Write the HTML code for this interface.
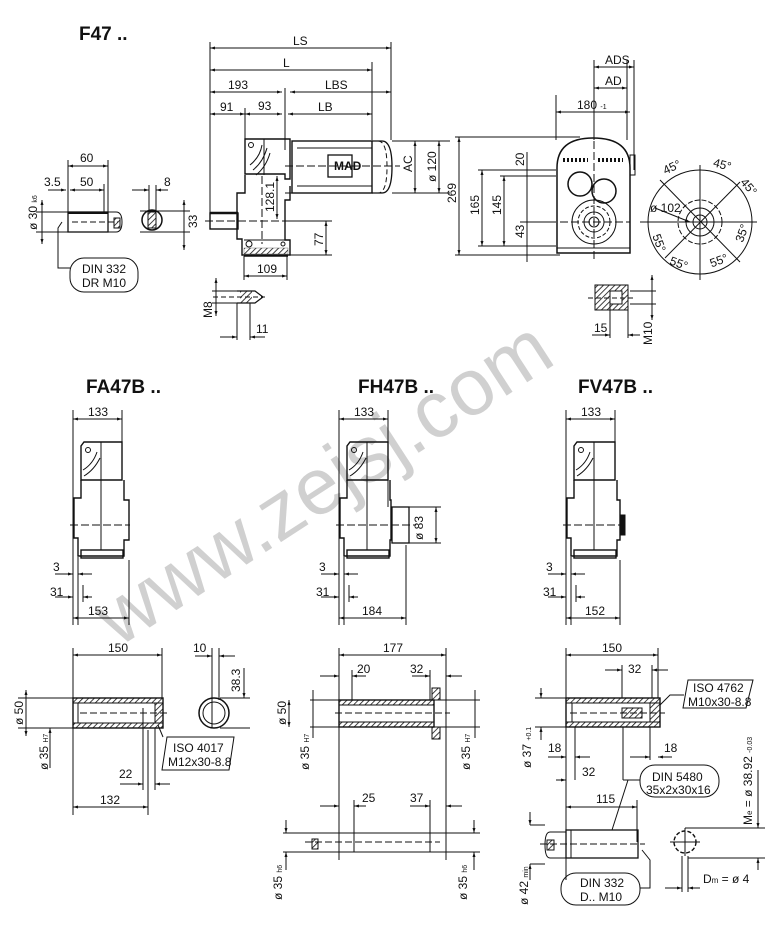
<!DOCTYPE html>
<html><head><meta charset="utf-8"><style>
html,body{margin:0;padding:0;background:#fff;}
svg{display:block;}
text{font-family:"Liberation Sans",sans-serif;font-size:12px;fill:#111;}
.b{font-weight:bold;}
.h{font-size:19px;font-weight:bold;}
</style></head><body>
<svg width="769" height="929" viewBox="0 0 769 929" xmlns="http://www.w3.org/2000/svg">
<defs>
<marker id="a" viewBox="0 0 10 10" refX="10" refY="5" markerWidth="7" markerHeight="5" orient="auto-start-reverse"><path d="M0 2L10 5L0 8z" fill="#111"/></marker>
<pattern id="hat" width="4" height="4" patternUnits="userSpaceOnUse" patternTransform="rotate(45)"><line x1="0" y1="0" x2="0" y2="4" stroke="#111" stroke-width="1.6"/></pattern>
</defs>
<text transform="translate(118,648) rotate(-33)" style="font-size:80px;fill:#c4c4c4;fill-opacity:0.8;font-family:'Liberation Sans',sans-serif">www.zejsj.com</text>
<g stroke="#111" stroke-width="1" fill="none">

<!-- ===== F47 left shaft ===== -->
<line x1="68" y1="160" x2="68" y2="232"/><line x1="108" y1="160" x2="108" y2="212"/>
<line x1="68" y1="166" x2="108" y2="166" marker-start="url(#a)" marker-end="url(#a)"/>
<line x1="48" y1="190" x2="66" y2="190" marker-end="url(#a)"/><line x1="70" y1="190" x2="104" y2="190" marker-start="url(#a)" marker-end="url(#a)"/>
<line x1="104" y1="184" x2="104" y2="212"/>
<rect x="68" y="212" width="40" height="20" stroke-width="1.3"/>
<line x1="68" y1="213" x2="108" y2="213" stroke-width="2"/>
<path d="M108 212h8q6 0 6 10q0 10-6 10h-8"/>
<rect x="114" y="218" width="6" height="10" fill="url(#hat)"/>
<line x1="72" y1="222" x2="118" y2="222" stroke-dasharray="6 3"/>
<line x1="36" y1="212" x2="68" y2="212"/><line x1="36" y1="232" x2="68" y2="232"/>
<line x1="42" y1="200" x2="42" y2="244" marker-start="url(#a)" marker-end="url(#a)"/>
<path d="M62 222l-4 6v40h12"/>
<rect x="70" y="258" width="68" height="34" rx="14"/>
<circle cx="152" cy="220" r="10" stroke-width="1.5"/><rect x="148" y="212" width="8" height="16" fill="url(#hat)"/>
<line x1="149" y1="185" x2="149" y2="210"/><line x1="156" y1="185" x2="156" y2="210"/>
<line x1="132" y1="190" x2="149" y2="190" marker-end="url(#a)"/><line x1="156" y1="190" x2="168" y2="190" marker-start="url(#a)"/>
<line x1="140" y1="211" x2="190" y2="211"/><line x1="140" y1="232" x2="190" y2="232"/>
<line x1="184" y1="200" x2="184" y2="250" marker-start="url(#a)" marker-end="url(#a)"/>

<!-- ===== F47 main side view ===== -->
<line x1="210" y1="42" x2="210" y2="218"/>
<line x1="245" y1="108" x2="245" y2="140"/><line x1="285" y1="88" x2="285" y2="150"/>
<line x1="372" y1="62" x2="372" y2="140"/><line x1="391" y1="42" x2="391" y2="140"/>
<line x1="210" y1="48" x2="391" y2="48" marker-start="url(#a)" marker-end="url(#a)"/>
<line x1="210" y1="70" x2="372" y2="70" marker-start="url(#a)" marker-end="url(#a)"/>
<line x1="210" y1="92" x2="282" y2="92" marker-start="url(#a)" marker-end="url(#a)"/>
<line x1="290" y1="92" x2="391" y2="92" marker-start="url(#a)" marker-end="url(#a)"/>
<line x1="210" y1="114" x2="245" y2="114" marker-start="url(#a)" marker-end="url(#a)"/>
<line x1="245" y1="114" x2="282" y2="114" marker-start="url(#a)" marker-end="url(#a)"/>
<line x1="288" y1="114" x2="372" y2="114" marker-start="url(#a)" marker-end="url(#a)"/>
<path d="M245 139h45v40h-5v-5h-40z" stroke-width="1.4"/>
<path d="M250 165q10-8 12-20M253 170q10-8 14-22M256 175q10-8 14-22"/>
<circle cx="251" cy="145" r="2.5"/>
<line x1="264" y1="139" x2="264" y2="175"/>
<path d="M245 175v18h-8v46h5v16h48v-15h-5v-40h5v-14" stroke-width="1.4"/>
<line x1="244" y1="240" x2="288" y2="240"/>
<rect x="244" y="248" width="44" height="6" fill="url(#hat)" stroke-width="0.3"/>
<line x1="244" y1="256" x2="288" y2="256" stroke-width="1.5"/>
<circle cx="249" cy="244" r="3"/><circle cx="283" cy="244" r="2"/>
<rect x="210" y="213" width="28" height="16" stroke-width="1.4"/><line x1="210" y1="213" x2="238" y2="213" stroke-width="2.5"/>
<line x1="205" y1="221" x2="330" y2="221" stroke-dasharray="8 3"/>
<line x1="262" y1="176" x2="262" y2="244" stroke-dasharray="8 3"/>
<rect x="292" y="141" width="80" height="52" stroke-width="1.4"/>
<path d="M372 141h10q10 0 10 26q0 26-10 26h-10" stroke-width="1.3"/>
<path d="M378 141q9 0 9 26q0 26-9 26" stroke-dasharray="5 3"/>
<line x1="297" y1="148" x2="372" y2="148"/><line x1="297" y1="186" x2="372" y2="186"/>
<rect x="328" y="155" width="24" height="22" stroke-width="1.3"/>
<line x1="285" y1="166" x2="400" y2="166" stroke-dasharray="8 3"/>
<line x1="285" y1="193" x2="292" y2="193"/>
<line x1="392" y1="141" x2="450" y2="141"/><line x1="392" y1="193" x2="450" y2="193"/>
<line x1="415" y1="141" x2="415" y2="193" marker-start="url(#a)" marker-end="url(#a)"/>
<line x1="439" y1="141" x2="439" y2="193" marker-start="url(#a)" marker-end="url(#a)"/>
<line x1="277" y1="176" x2="277" y2="219" marker-start="url(#a)" marker-end="url(#a)"/>
<line x1="290" y1="221" x2="332" y2="221"/><line x1="290" y1="255" x2="332" y2="255"/>
<line x1="326" y1="221" x2="326" y2="255" marker-start="url(#a)" marker-end="url(#a)"/>
<line x1="244" y1="256" x2="244" y2="280"/><line x1="287" y1="256" x2="287" y2="280"/>
<line x1="244" y1="276" x2="287" y2="276" marker-start="url(#a)" marker-end="url(#a)"/>
<path d="M237 291h18l8 6l-8 6h-18" stroke-width="1.2"/><rect x="240" y="291" width="12" height="12" fill="url(#hat)" stroke-width="0"/>
<line x1="213" y1="297" x2="265" y2="297" stroke-dasharray="5 3"/>
<line x1="216" y1="278" x2="216" y2="316" marker-start="url(#a)" marker-end="url(#a)"/>
<line x1="212" y1="291" x2="237" y2="291"/><line x1="212" y1="303" x2="237" y2="303"/>
<line x1="237" y1="303" x2="237" y2="340"/><line x1="250" y1="303" x2="250" y2="340"/>
<line x1="220" y1="337" x2="237" y2="337" marker-end="url(#a)"/><line x1="250" y1="337" x2="265" y2="337" marker-start="url(#a)"/>

<!-- ===== F47 end view ===== -->
<line x1="455" y1="137" x2="580" y2="137"/><line x1="455" y1="255" x2="560" y2="255"/>
<line x1="459" y1="137" x2="459" y2="255" marker-start="url(#a)" marker-end="url(#a)"/>
<line x1="478" y1="170" x2="556" y2="170"/><line x1="478" y1="246" x2="556" y2="246"/>
<line x1="482" y1="170" x2="482" y2="246" marker-start="url(#a)" marker-end="url(#a)"/>
<line x1="500" y1="176" x2="556" y2="176"/>
<line x1="504" y1="176" x2="504" y2="246" marker-start="url(#a)" marker-end="url(#a)"/>
<line x1="527" y1="152" x2="527" y2="262"/>
<line x1="520" y1="222" x2="556" y2="222"/>
<path d="M557 253v-85q0-30 36-30q37 0 37 30v85z" stroke-width="1.5"/>
<line x1="557" y1="248" x2="630" y2="248"/>
<path d="M563 160h25M598 160h25" stroke-width="4" stroke-dasharray="2 2"/>
<circle cx="580" cy="184" r="12" stroke-width="1.5"/><circle cx="604" cy="191" r="12" stroke-width="1.5"/>
<circle cx="594" cy="222" r="22"/><circle cx="594" cy="222" r="16" stroke-dasharray="4 2"/>
<circle cx="594" cy="222" r="10"/><circle cx="594" cy="222" r="5"/>
<line x1="560" y1="222" x2="630" y2="222" stroke-dasharray="8 3"/><line x1="594" y1="130" x2="594" y2="262" stroke-dasharray="8 3"/>
<line x1="556" y1="95" x2="556" y2="140"/><line x1="627" y1="60" x2="627" y2="140"/><line x1="634" y1="60" x2="634" y2="170"/>
<line x1="594" y1="60" x2="594" y2="140"/>
<line x1="594" y1="67" x2="634" y2="67" marker-start="url(#a)" marker-end="url(#a)"/>
<line x1="594" y1="88" x2="627" y2="88" marker-start="url(#a)" marker-end="url(#a)"/>
<line x1="556" y1="112" x2="630" y2="112" marker-start="url(#a)" marker-end="url(#a)"/>
<rect x="630" y="155" width="5" height="20"/>
<circle cx="700" cy="222" r="52"/>
<circle cx="700" cy="222" r="22" stroke-dasharray="5 2"/><circle cx="700" cy="222" r="14"/><circle cx="700" cy="222" r="7"/>
<line x1="640" y1="222" x2="757" y2="222"/><line x1="700" y1="165" x2="700" y2="280"/>
<line x1="660" y1="180" x2="740" y2="262"/><line x1="740" y1="182" x2="665" y2="258"/>
<line x1="655" y1="208" x2="690" y2="222" marker-end="url(#a)"/>
<rect x="595" y="285" width="33" height="25" fill="url(#hat)"/><rect x="610" y="291" width="12" height="13" fill="#fff"/>
<line x1="588" y1="298" x2="634" y2="298" stroke-dasharray="5 3"/>
<line x1="610" y1="304" x2="610" y2="338"/><line x1="628" y1="310" x2="628" y2="338"/>
<line x1="592" y1="335" x2="610" y2="335" marker-end="url(#a)"/><line x1="628" y1="335" x2="640" y2="335" marker-start="url(#a)"/>
<line x1="652" y1="275" x2="652" y2="320" marker-start="url(#a)" marker-end="url(#a)"/>
<line x1="630" y1="291" x2="656" y2="291"/><line x1="630" y1="304" x2="656" y2="304"/>

<!-- ===== middle row ===== -->
<g>
<line x1="73" y1="410" x2="73" y2="625"/><line x1="122" y1="410" x2="122" y2="442"/>
<line x1="73" y1="419" x2="122" y2="419" marker-start="url(#a)" marker-end="url(#a)"/>
<path d="M84 442h38v38H81v-34z" stroke-width="1.4"/><circle cx="88" cy="450" r="2.5"/>
<path d="M83 470q10-6 14-18M84 476q10-6 16-18" />
<line x1="101" y1="442" x2="101" y2="550"/>
<path d="M81 480v18h-7v40h4v18h46v-16h5v-40h-5v-20" stroke-width="1.4"/>
<rect x="81" y="550" width="42" height="8" stroke-width="1.4"/>
<line x1="70" y1="525" x2="130" y2="525" stroke-dasharray="8 3"/>
<line x1="78" y1="557" x2="78" y2="625"/><line x1="129" y1="560" x2="129" y2="625"/>
<line x1="55" y1="574" x2="73" y2="574" marker-end="url(#a)"/><line x1="78" y1="574" x2="92" y2="574" marker-start="url(#a)"/>
<line x1="55" y1="597" x2="73" y2="597" marker-end="url(#a)"/><line x1="83" y1="597" x2="92" y2="597" marker-start="url(#a)"/>
<line x1="83" y1="585" x2="83" y2="602"/>
<line x1="73" y1="618" x2="129" y2="618" marker-start="url(#a)" marker-end="url(#a)"/>
</g>
<g transform="translate(266,0)">
<line x1="73" y1="410" x2="73" y2="625"/><line x1="122" y1="410" x2="122" y2="507"/>
<line x1="73" y1="419" x2="122" y2="419" marker-start="url(#a)" marker-end="url(#a)"/>
<path d="M84 442h38v38H81v-34z" stroke-width="1.4"/><circle cx="88" cy="450" r="2.5"/>
<path d="M83 470q10-6 14-18M84 476q10-6 16-18" />
<line x1="101" y1="442" x2="101" y2="550"/>
<path d="M81 480v18h-7v40h4v18h46v-16h1v-40h-1v-20" stroke-width="1.4"/>
<rect x="81" y="550" width="42" height="8" stroke-width="1.4"/>
<rect x="126" y="507" width="17" height="36" stroke-width="1.3"/>
<line x1="143" y1="507" x2="175" y2="507"/><line x1="143" y1="543" x2="175" y2="543"/>
<line x1="170" y1="507" x2="170" y2="543" marker-start="url(#a)" marker-end="url(#a)"/>
<line x1="70" y1="525" x2="150" y2="525" stroke-dasharray="8 3"/>
<line x1="78" y1="557" x2="78" y2="625"/><line x1="140" y1="545" x2="140" y2="625"/>
<line x1="55" y1="574" x2="73" y2="574" marker-end="url(#a)"/><line x1="78" y1="574" x2="92" y2="574" marker-start="url(#a)"/>
<line x1="55" y1="597" x2="73" y2="597" marker-end="url(#a)"/><line x1="83" y1="597" x2="92" y2="597" marker-start="url(#a)"/>
<line x1="83" y1="585" x2="83" y2="602"/>
<line x1="73" y1="618" x2="140" y2="618" marker-start="url(#a)" marker-end="url(#a)"/>
</g>
<g transform="translate(493,0)">
<line x1="73" y1="410" x2="73" y2="625"/><line x1="122" y1="410" x2="122" y2="442"/>
<line x1="73" y1="419" x2="122" y2="419" marker-start="url(#a)" marker-end="url(#a)"/>
<path d="M84 442h38v38H81v-34z" stroke-width="1.4"/><circle cx="88" cy="450" r="2.5"/>
<path d="M83 470q10-6 14-18M84 476q10-6 16-18" />
<line x1="101" y1="442" x2="101" y2="550"/>
<path d="M81 480v18h-7v40h4v18h46v-16h3v-40h-3v-20" stroke-width="1.4"/>
<rect x="128" y="515" width="4" height="20" fill="#111"/>
<rect x="81" y="550" width="42" height="8" stroke-width="1.4"/>
<line x1="70" y1="525" x2="130" y2="525" stroke-dasharray="8 3"/>
<line x1="78" y1="557" x2="78" y2="625"/><line x1="127" y1="560" x2="127" y2="625"/>
<line x1="55" y1="574" x2="73" y2="574" marker-end="url(#a)"/><line x1="78" y1="574" x2="92" y2="574" marker-start="url(#a)"/>
<line x1="55" y1="597" x2="73" y2="597" marker-end="url(#a)"/><line x1="83" y1="597" x2="92" y2="597" marker-start="url(#a)"/>
<line x1="83" y1="585" x2="83" y2="602"/>
<line x1="73" y1="618" x2="127" y2="618" marker-start="url(#a)" marker-end="url(#a)"/>
</g>

<!-- ===== bottom FA shaft ===== -->
<line x1="73" y1="648" x2="73" y2="815"/><line x1="162" y1="648" x2="162" y2="698"/>
<line x1="73" y1="655" x2="162" y2="655" marker-start="url(#a)" marker-end="url(#a)"/>
<rect x="73" y="698" width="90" height="30" stroke-width="1.4"/>
<rect x="73" y="698" width="90" height="5" fill="url(#hat)"/><rect x="73" y="723" width="90" height="5" fill="url(#hat)"/>
<line x1="78" y1="703" x2="78" y2="723"/><rect x="155" y="703" width="8" height="20" fill="url(#hat)"/>
<line x1="80" y1="713" x2="168" y2="713" stroke-dasharray="7 3"/>
<line x1="18" y1="698" x2="73" y2="698"/><line x1="18" y1="728" x2="73" y2="728"/>
<line x1="26" y1="690" x2="26" y2="736" marker-start="url(#a)" marker-end="url(#a)"/>
<line x1="50" y1="728" x2="50" y2="768" marker-start="url(#a)"/>
<line x1="143" y1="708" x2="143" y2="790"/><line x1="155" y1="728" x2="155" y2="790"/>
<line x1="120" y1="784" x2="143" y2="784" marker-end="url(#a)"/><line x1="155" y1="784" x2="170" y2="784" marker-start="url(#a)"/>
<line x1="148" y1="730" x2="148" y2="815"/>
<line x1="73" y1="807" x2="148" y2="807" marker-start="url(#a)" marker-end="url(#a)"/>
<path d="M158 725l5 12"/><path d="M167 737h67l-5 33h-67z"/>
<circle cx="214" cy="713" r="15" stroke-width="1.5"/><circle cx="214" cy="713" r="11"/>
<line x1="212" y1="648" x2="212" y2="728"/><line x1="219" y1="648" x2="219" y2="700"/>
<line x1="195" y1="656" x2="212" y2="656" marker-end="url(#a)"/><line x1="219" y1="656" x2="235" y2="656" marker-start="url(#a)"/>
<line x1="220" y1="698" x2="250" y2="698"/><line x1="220" y1="728" x2="250" y2="728"/>
<line x1="244" y1="668" x2="244" y2="698" marker-end="url(#a)"/>

<!-- ===== bottom FH shaft ===== -->
<line x1="339" y1="648" x2="339" y2="860"/><line x1="446" y1="648" x2="446" y2="860"/>
<line x1="339" y1="655" x2="446" y2="655" marker-start="url(#a)" marker-end="url(#a)"/>
<rect x="339" y="700" width="95" height="27" stroke-width="1.4"/>
<rect x="339" y="700" width="95" height="5" fill="url(#hat)"/><rect x="339" y="722" width="95" height="5" fill="url(#hat)"/>
<rect x="432" y="688" width="8" height="12" fill="url(#hat)"/><rect x="432" y="727" width="8" height="12" fill="url(#hat)"/>
<line x1="310" y1="700" x2="480" y2="700"/><line x1="310" y1="727" x2="480" y2="727"/>
<line x1="335" y1="713" x2="450" y2="713" stroke-dasharray="7 3"/>
<line x1="289" y1="700" x2="289" y2="727" marker-start="url(#a)" marker-end="url(#a)"/>
<line x1="313" y1="690" x2="313" y2="738"/><line x1="475" y1="690" x2="475" y2="738"/>
<line x1="352" y1="670" x2="352" y2="700"/><line x1="430" y1="670" x2="430" y2="700"/>
<line x1="320" y1="676" x2="339" y2="676" marker-end="url(#a)"/><line x1="352" y1="676" x2="366" y2="676" marker-start="url(#a)"/>
<line x1="412" y1="676" x2="430" y2="676" marker-end="url(#a)"/><line x1="446" y1="676" x2="462" y2="676" marker-start="url(#a)"/>
<line x1="354" y1="800" x2="354" y2="852"/><line x1="430" y1="800" x2="430" y2="852"/>
<line x1="320" y1="806" x2="339" y2="806" marker-end="url(#a)"/><line x1="354" y1="806" x2="366" y2="806" marker-start="url(#a)"/>
<line x1="410" y1="806" x2="430" y2="806" marker-end="url(#a)"/><line x1="446" y1="806" x2="462" y2="806" marker-start="url(#a)"/>
<line x1="283" y1="833" x2="480" y2="833"/><line x1="283" y1="852" x2="480" y2="852"/>
<path d="M318 833h21v19h-21"/><rect x="312" y="839" width="6" height="10" fill="url(#hat)"/>
<line x1="305" y1="842" x2="440" y2="842" stroke-dasharray="7 3"/>
<line x1="286" y1="820" x2="286" y2="833" marker-end="url(#a)"/><line x1="286" y1="852" x2="286" y2="870" marker-start="url(#a)"/>
<line x1="474" y1="820" x2="474" y2="833" marker-end="url(#a)"/><line x1="474" y1="852" x2="474" y2="870" marker-start="url(#a)"/>

<!-- ===== bottom FV shaft ===== -->
<line x1="566" y1="648" x2="566" y2="880"/><line x1="658" y1="648" x2="658" y2="698"/>
<line x1="566" y1="655" x2="658" y2="655" marker-start="url(#a)" marker-end="url(#a)"/>
<rect x="566" y="698" width="94" height="29" stroke-width="1.4"/>
<rect x="566" y="698" width="94" height="5" fill="url(#hat)"/><rect x="566" y="722" width="94" height="5" fill="url(#hat)"/>
<line x1="572" y1="703" x2="572" y2="722"/><rect x="650" y="703" width="10" height="19" fill="url(#hat)"/>
<rect x="622" y="708" width="20" height="10" fill="url(#hat)"/>
<line x1="535" y1="698" x2="566" y2="698"/><line x1="535" y1="727" x2="566" y2="727"/>
<line x1="570" y1="713" x2="665" y2="713" stroke-dasharray="7 3"/>
<line x1="541" y1="688" x2="541" y2="698" marker-end="url(#a)"/><line x1="541" y1="727" x2="541" y2="740" marker-start="url(#a)"/>
<line x1="622" y1="665" x2="622" y2="698"/><line x1="652" y1="665" x2="652" y2="698"/>
<line x1="605" y1="670" x2="622" y2="670" marker-end="url(#a)"/><line x1="652" y1="670" x2="668" y2="670" marker-start="url(#a)"/>
<path d="M660 705l10-10h14"/><path d="M688 680h65l-7 28h-63z"/>
<line x1="575" y1="727" x2="575" y2="780"/><line x1="650" y1="727" x2="650" y2="760"/><line x1="623" y1="727" x2="623" y2="780"/>
<line x1="548" y1="757" x2="566" y2="757" marker-end="url(#a)"/><line x1="575" y1="757" x2="590" y2="757" marker-start="url(#a)"/>
<line x1="630" y1="757" x2="650" y2="757" marker-end="url(#a)"/><line x1="658" y1="757" x2="672" y2="757" marker-start="url(#a)"/>
<line x1="556" y1="780" x2="566" y2="780" marker-end="url(#a)"/><line x1="623" y1="780" x2="640" y2="780"/>
<rect x="640" y="765" width="79" height="32" rx="15"/>
<line x1="637" y1="800" x2="637" y2="842"/>
<line x1="566" y1="807" x2="637" y2="807" marker-start="url(#a)" marker-end="url(#a)"/>
<line x1="628" y1="780" x2="612" y2="830"/>
<rect x="566" y="830" width="72" height="28" stroke-width="1.3"/><line x1="571" y1="830" x2="571" y2="858"/>
<path d="M566 832h-16q-5 0-5 13q0 13 5 13h16"/><rect x="547" y="840" width="7" height="10" fill="url(#hat)"/>
<line x1="540" y1="844" x2="645" y2="844" stroke-dasharray="7 3"/>
<line x1="530" y1="825" x2="545" y2="825"/><line x1="530" y1="864" x2="545" y2="864"/>
<line x1="530" y1="812" x2="530" y2="825" marker-end="url(#a)"/><line x1="530" y1="864" x2="530" y2="880" marker-start="url(#a)"/>
<path d="M642 850l8 10v28h-10"/><rect x="561" y="873" width="79" height="32" rx="15"/>
<circle cx="685" cy="842" r="11" stroke-width="1.4" stroke-dasharray="4 2"/>
<line x1="670" y1="842" x2="700" y2="842"/><line x1="685" y1="828" x2="685" y2="856"/>
<line x1="685" y1="828" x2="765" y2="828"/><line x1="688" y1="858" x2="765" y2="858"/>
<line x1="758" y1="770" x2="758" y2="828" marker-end="url(#a)"/><line x1="758" y1="858" x2="758" y2="870" marker-start="url(#a)"/>
<line x1="682" y1="856" x2="682" y2="892"/><line x1="688" y1="856" x2="688" y2="892"/>
<line x1="665" y1="888" x2="682" y2="888" marker-end="url(#a)"/><line x1="688" y1="888" x2="700" y2="888" marker-start="url(#a)"/>
</g>

<!-- ===== text ===== -->
<text x="79" y="40" class="h">F47 ..</text>
<text x="80" y="162">60</text><text x="44" y="186">3.5</text><text x="80" y="186">50</text><text x="164" y="186">8</text>
<text transform="translate(37,230) rotate(-90)">ø 30 <tspan font-size="7">k6</tspan></text>
<text transform="translate(197,228) rotate(-90)">33</text>
<text x="82" y="273" font-size="11">DIN 332</text><text x="82" y="287" font-size="11">DR M10</text>
<text x="293" y="45">LS</text><text x="283" y="67">L</text><text x="228" y="89">193</text><text x="325" y="89">LBS</text>
<text x="220" y="111">91</text><text x="258" y="110">93</text><text x="318" y="111">LB</text>
<text x="334" y="170" font-size="8" class="b">MAD</text>
<text transform="translate(412,172) rotate(-90)">AC</text><text transform="translate(436,182) rotate(-90)">ø 120</text>
<text transform="translate(274,212) rotate(-90)">128.1</text><text transform="translate(323,246) rotate(-90)">77</text>
<text x="257" y="273">109</text>
<text transform="translate(212,318) rotate(-90)">M8</text><text x="256" y="333">11</text>
<text transform="translate(456,203) rotate(-90)">269</text><text transform="translate(479,215) rotate(-90)">165</text>
<text transform="translate(501,215) rotate(-90)">145</text><text transform="translate(524,166) rotate(-90)">20</text>
<text transform="translate(524,238) rotate(-90)">43</text>
<text x="605" y="64">ADS</text><text x="605" y="85">AD</text><text x="577" y="109">180 <tspan font-size="7">-1</tspan></text>
<text x="663" y="172" transform="rotate(-25 670 168)">45°</text><text x="713" y="168" transform="rotate(15 720 165)">45°</text>
<text x="740" y="190" transform="rotate(50 748 186)">45°</text><text x="650" y="212">ø 102</text>
<text x="652" y="244" transform="rotate(70 658 240)">55°</text><text x="670" y="266" transform="rotate(20 675 262)">55°</text>
<text x="710" y="266" transform="rotate(-20 715 262)">55°</text><text x="735" y="240" transform="rotate(-70 741 236)">35°</text>
<text x="594" y="332">15</text><text transform="translate(652,345) rotate(-90)">M10</text>

<text x="86" y="393" class="h">FA47B ..</text><text x="358" y="393" class="h">FH47B ..</text><text x="578" y="393" class="h">FV47B ..</text>
<text x="88" y="416">133</text><text x="354" y="416">133</text><text x="581" y="416">133</text>
<text x="53" y="571">3</text><text x="50" y="596">31</text><text x="88" y="615">153</text>
<text x="319" y="571">3</text><text x="316" y="596">31</text><text x="362" y="615">184</text>
<text x="546" y="571">3</text><text x="543" y="596">31</text><text x="585" y="615">152</text>
<text transform="translate(423,540) rotate(-90)">ø 83</text>

<text x="108" y="652">150</text><text x="193" y="652">10</text>
<text transform="translate(240,692) rotate(-90)">38.3</text>
<text transform="translate(23,725) rotate(-90)">ø 50</text>
<text transform="translate(48,770) rotate(-90)">ø 35 <tspan font-size="7">H7</tspan></text>
<text x="173" y="752" font-size="11">ISO 4017</text><text x="168" y="766" font-size="11">M12x30-8.8</text>
<text x="119" y="778">22</text><text x="100" y="804">132</text>
<text x="383" y="652">177</text><text x="357" y="673">20</text><text x="410" y="673">32</text>
<text transform="translate(286,725) rotate(-90)">ø 50</text>
<text transform="translate(309,770) rotate(-90)">ø 35 <tspan font-size="7">H7</tspan></text>
<text transform="translate(470,770) rotate(-90)">ø 35 <tspan font-size="7">H7</tspan></text>
<text x="362" y="802">25</text><text x="410" y="802">37</text>
<text transform="translate(282,900) rotate(-90)">ø 35 <tspan font-size="7">h6</tspan></text>
<text transform="translate(467,900) rotate(-90)">ø 35 <tspan font-size="7">h6</tspan></text>
<text x="602" y="652">150</text><text x="628" y="673">32</text>
<text x="693" y="692" font-size="11">ISO 4762</text><text x="688" y="706" font-size="11">M10x30-8.8</text>
<text transform="translate(531,768) rotate(-90)">ø 37 <tspan font-size="7">+0.1</tspan></text>
<text x="548" y="752">18</text><text x="664" y="752">18</text><text x="582" y="776">32</text>
<text x="652" y="781" font-size="11">DIN 5480</text><text x="646" y="794" font-size="11">35x2x30x16</text>
<text x="596" y="803">115</text>
<text transform="translate(528,905) rotate(-90)">ø 42 <tspan font-size="7">min</tspan></text>
<text x="580" y="887" font-size="11">DIN 332</text><text x="580" y="901" font-size="11">D.. M10</text>
<text transform="translate(752,825) rotate(-90)">M<tspan font-size="8">e</tspan> = ø 38.92 <tspan font-size="7">-0.03</tspan></text>
<text x="703" y="883">D<tspan font-size="8">m</tspan> = ø 4</text>
</svg>
</body></html>
